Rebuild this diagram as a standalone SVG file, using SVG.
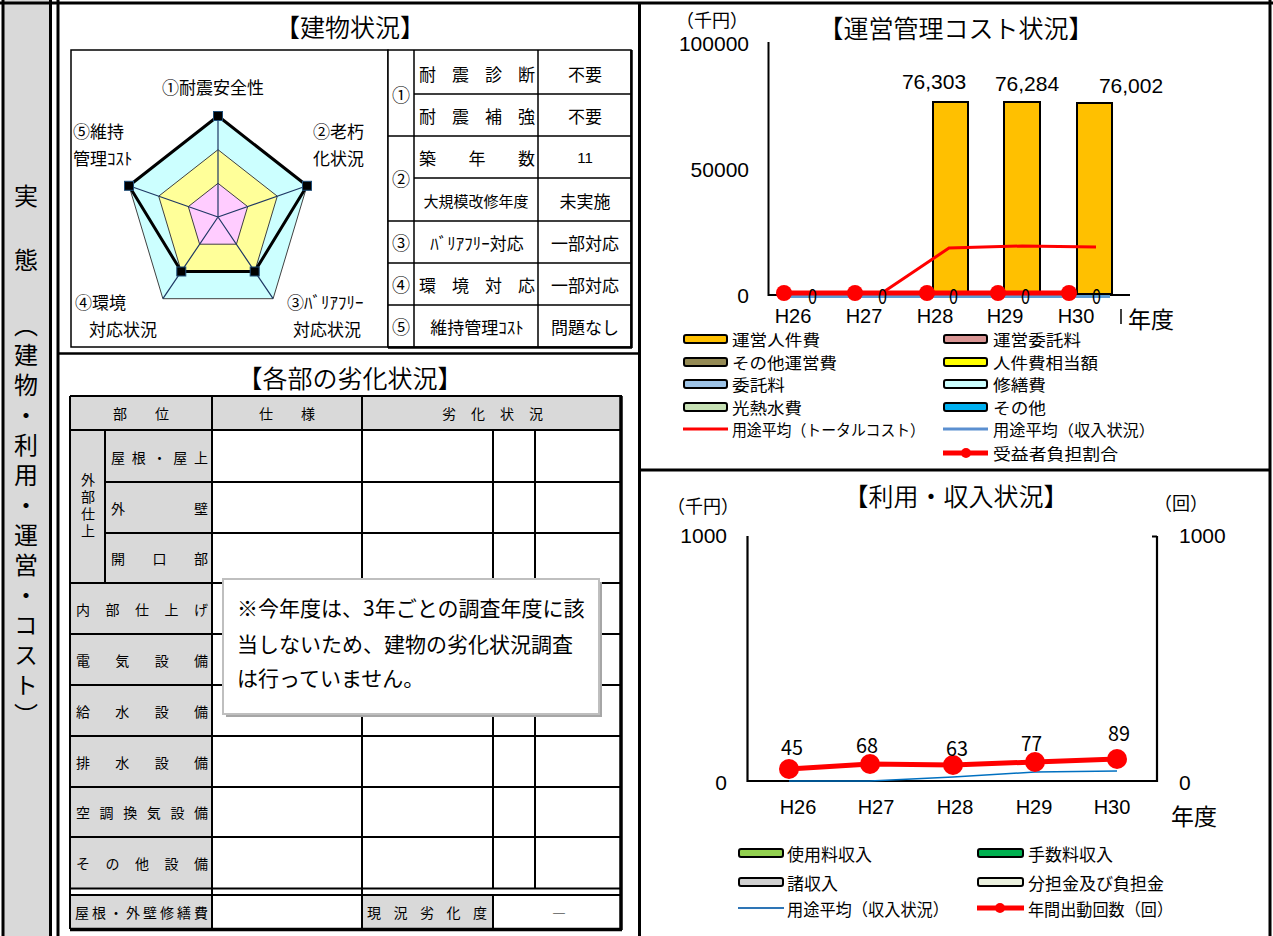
<svg xmlns="http://www.w3.org/2000/svg" width="1273" height="936" viewBox="0 0 1273 936">
<defs>
<style>
text{font-family:"Noto Sans CJK JP","Liberation Sans",sans-serif;dominant-baseline:central;fill:#000}
.n{font-family:"Liberation Sans",Arial,sans-serif}
.ttl{font-size:25px;text-anchor:middle;font-weight:350}
.c{text-anchor:middle}
.e{text-anchor:end}
.f17{font-size:17px}
.f15{font-size:15px}
.f14{font-size:14px}
.f18{font-size:18px}
.f20{font-size:20px}
.f21{font-size:21px}
.f23{font-size:23px}
.lg{font-size:15.5px}
.red{fill:#c00000}
.hd{fill:#d9d9d9}
.sw{stroke:#000;stroke-width:2}
.side{font-size:24px;text-anchor:middle}
.vt{writing-mode:vertical-rl;dominant-baseline:auto}
</style>
</defs>

<g id="frame">
<rect width="1273" height="936" fill="#fff"/>
<rect x="3" y="0" width="47" height="936" fill="#d9d9d9"/>
<path d="M3 0V936M50.5 0V936M58 0V936M1270 0V936M639.5 4V936M0 3H1273" stroke="#000" stroke-width="3" fill="none"/>
<path d="M58 353.5H639" stroke="#000" stroke-width="2.5"/>
<path d="M639 470H1270" stroke="#000" stroke-width="3"/>
</g>

<g id="side">
<text class="side" x="26" y="194">実</text>
<text class="side" x="26" y="258">態</text>
<text class="vt" x="26" y="313" font-size="24" letter-spacing="6">（建物・利用・運営・コスト）</text>
</g>

<g id="bldg-title"><text class="ttl" x="350" y="26">【建物状況】</text></g>

<g id="radar">
<rect x="71" y="50" width="317" height="297" fill="#fff" stroke="#000" stroke-width="1.5"/>
<polygon points="218,116 307,185.8 273.1,298.7 162.9,298.7 129,185.8" fill="#ccffff" stroke="#404040" stroke-width="1"/>
<polygon points="218,149.7 277.3,196.2 254.7,271.5 181.3,271.5 158.7,196.2" fill="#ffff99" stroke="#404040" stroke-width="1"/>
<polygon points="218,183.3 247.7,206.6 236.4,244.2 199.6,244.2 188.3,206.6" fill="#ffccff" stroke="#404040" stroke-width="1"/>
<path d="M218 217L218 116M218 217L307 185.8M218 217L273.1 298.7M218 217L162.9 298.7M218 217L129 185.8" stroke="#1f3864" stroke-width="1.2"/>
<polygon points="218,116 307,185.8 254.7,271.5 181.3,271.5 129,185.8" fill="none" stroke="#000" stroke-width="3" stroke-linejoin="round"/>
<g fill="#000" stroke="#1f4e79" stroke-width="1">
<rect x="213.5" y="111.5" width="9" height="9"/>
<rect x="302.5" y="181.3" width="9" height="9"/>
<rect x="250.2" y="267" width="9" height="9"/>
<rect x="176.8" y="267" width="9" height="9"/>
<rect x="124.5" y="181.3" width="9" height="9"/>
</g>
<text class="f17 c" x="213" y="86">①耐震安全性</text>
<text class="f17 e" x="364" y="130">②老朽</text>
<text class="f17 e" x="364" y="157">化状況</text>
<text class="f17" x="73" y="130">⑤維持</text>
<text class="f17" x="73" y="157">管理ｺｽﾄ</text>
<text class="f17" x="75" y="301">④環境</text>
<text class="f17" x="89" y="328">対応状況</text>
<text class="f17" x="287" y="301">③ﾊﾞﾘｱﾌﾘｰ</text>
<text class="f17" x="293" y="328">対応状況</text>
</g>

<g id="bldg-table">
<rect x="388" y="50" width="243" height="297" fill="#fff" stroke="#000" stroke-width="1.5"/>
<path d="M414 50V347M538 50V347M388 136H631M388 221H631M388 263H631M388 305H631M414 94H631M414 178H631" stroke="#000" stroke-width="1.5"/>
<path d="M631.5 50V348M388 347.5H632" stroke="#000" stroke-width="2.5"/>
<text class="f18 c" x="401" y="94">①</text>
<text class="f18 c" x="401" y="178">②</text>
<text class="f18 c" x="401" y="242">③</text>
<text class="f18 c" x="401" y="284">④</text>
<text class="f18 c" x="401" y="326">⑤</text>
<text class="f17" x="419" y="73" textLength="116" lengthAdjust="spacing">耐震診断</text>
<text class="f17" x="419" y="115" textLength="116" lengthAdjust="spacing">耐震補強</text>
<text class="f17" x="419" y="157" textLength="116" lengthAdjust="spacing">築年数</text>
<text class="f15 c" x="476" y="200">大規模改修年度</text>
<text class="f17 c" x="477" y="242">ﾊﾞﾘｱﾌﾘｰ対応</text>
<text class="f17" x="419" y="284" textLength="116" lengthAdjust="spacing">環境対応</text>
<text class="f17 c" x="477" y="326">維持管理ｺｽﾄ</text>
<text class="f17 c" x="585" y="73">不要</text>
<text class="f17 c" x="585" y="115">不要</text>
<text class="n f15 c" x="585" y="157">11</text>
<text class="f17 c" x="585" y="200">未実施</text>
<text class="f17 c" x="585" y="242">一部対応</text>
<text class="f17 c" x="585" y="284">一部対応</text>
<text class="f17 c" x="585" y="326">問題なし</text>
</g>

<g id="deg-title"><text class="ttl" x="350" y="377">【各部の劣化状況】</text></g>

<g id="deg-table">
<rect x="70" y="396" width="552" height="34" class="hd"/>
<rect x="70" y="430" width="142" height="458" class="hd"/>
<rect x="70" y="895" width="142" height="34" class="hd"/>
<rect x="362" y="895" width="131" height="34" class="hd"/>
<path d="M70 396H622M70 430H622M105 482H622M105 533H622M70 583H622M70 634H622M70 685H622M70 736H622M70 787H622M70 837H622M70 888.5H622M70 895H622M105 430V583M212 396V929M362 396V929M493 430V888M535 430V888M493 895V929M70 396V929" stroke="#000" stroke-width="2" fill="none"/>
<path d="M621 396V930M70 929.5H622" stroke="#000" stroke-width="3.5" fill="none"/>
<text class="f14 c" x="141" y="413">部　　位</text>
<text class="f14 c" x="287" y="413">仕　　様</text>
<text class="f14" x="442" y="413" textLength="101" lengthAdjust="spacing">劣化状況</text>
<text class="vt" x="88" y="473" font-size="14" letter-spacing="3">外部仕上</text>
<text class="f14" x="111" y="457" textLength="97" lengthAdjust="spacing">屋根・屋上</text>
<text class="f14" x="111" y="508" textLength="97" lengthAdjust="spacing">外壁</text>
<text class="f14" x="111" y="558" textLength="97" lengthAdjust="spacing">開口部</text>
<text class="f14" x="76" y="609" textLength="132" lengthAdjust="spacing">内部仕上げ</text>
<text class="f14" x="76" y="660" textLength="132" lengthAdjust="spacing">電気設備</text>
<text class="f14" x="76" y="711" textLength="132" lengthAdjust="spacing">給水設備</text>
<text class="f14" x="76" y="762" textLength="132" lengthAdjust="spacing">排水設備</text>
<text class="f14" x="76" y="812" textLength="132" lengthAdjust="spacing">空調換気設備</text>
<text class="f14" x="76" y="863" textLength="132" lengthAdjust="spacing">その他設備</text>
<text class="f14" x="75" y="912" textLength="133" lengthAdjust="spacing">屋根・外壁修繕費</text>
<text class="f14" x="367" y="912" textLength="120" lengthAdjust="spacing">現況劣化度</text>
<text class="f14 c" x="559" y="912">―</text>
</g>

<g id="note">
<rect x="226" y="582" width="376" height="135" fill="#a6a6a6"/>
<rect x="223" y="579" width="376" height="135" fill="#fff" stroke="#bfbfbf" stroke-width="2"/>
<text class="f21" x="237" y="607">※今年度は、3年ごとの調査年度に該</text>
<text class="f21" x="237" y="643">当しないため、建物の劣化状況調査</text>
<text class="f21" x="237" y="677">は行っていません。</text>
</g>

<g id="cost-chart">
<text class="ttl" x="956" y="27">【運営管理コスト状況】</text>
<text class="f18 c" x="712" y="19">（千円）</text>
<text class="n f21 e" x="749" y="43">100000</text>
<text class="n f21 e" x="749" y="169">50000</text>
<text class="n f21 e" x="749" y="295">0</text>
<g fill="#ffc000" stroke="#000" stroke-width="2">
<rect x="933" y="102" width="35" height="192"/>
<rect x="1004" y="102" width="36" height="192"/>
<rect x="1077" y="103" width="35" height="191"/>
</g>
<path d="M768.5 42V296M768 295H1130" stroke="#000" stroke-width="2" fill="none"/>
<path d="M784 296.5H1110" stroke="#5b9bd5" stroke-width="3"/>
<polyline points="784,293 882,293 949,248 1022,246 1096,247" fill="none" stroke="#ff0000" stroke-width="3"/>
<path d="M784 293H1069" stroke="#ff0000" stroke-width="5"/>
<g fill="#ff0000">
<circle cx="784" cy="293" r="8"/>
<circle cx="855" cy="293" r="8"/>
<circle cx="927" cy="293" r="8"/>
<circle cx="998" cy="293" r="8"/>
<circle cx="1069" cy="293" r="8"/>
</g>
<g class="n red" font-size="20">
<text x="808" y="295" textLength="9" lengthAdjust="spacingAndGlyphs">0</text>
<text x="878" y="295" textLength="9" lengthAdjust="spacingAndGlyphs">0</text>
<text x="949" y="295" textLength="9" lengthAdjust="spacingAndGlyphs">0</text>
<text x="1021" y="295" textLength="9" lengthAdjust="spacingAndGlyphs">0</text>
<text x="1092" y="295" textLength="9" lengthAdjust="spacingAndGlyphs">0</text>
</g>
<text class="n f21 c" x="934" y="81">76,303</text>
<text class="n f21 c" x="1027" y="83">76,284</text>
<text class="n f21 c" x="1131" y="85">76,002</text>
<text class="n f20 c" x="793" y="316">H26</text>
<text class="n f20 c" x="864" y="316">H27</text>
<text class="n f20 c" x="935" y="316">H28</text>
<text class="n f20 c" x="1005" y="316">H29</text>
<text class="n f20 c" x="1076" y="316">H30</text>
<path d="M1121 309V324" stroke="#000" stroke-width="1.5"/>
<text class="f23" x="1128" y="318">年度</text>
</g>

<g id="cost-legend">
<g class="sw">
<rect x="684" y="335" width="43" height="8" rx="2" fill="#ffc000"/>
<rect x="684" y="358" width="43" height="8" rx="2" fill="#948a54"/>
<rect x="684" y="380" width="43" height="8" rx="2" fill="#9dc3e6"/>
<rect x="684" y="403" width="43" height="8" rx="2" fill="#c6e0b4"/>
<rect x="944" y="335" width="43" height="8" rx="2" fill="#d99594"/>
<rect x="944" y="358" width="43" height="8" rx="2" fill="#ffff00"/>
<rect x="944" y="380" width="43" height="8" rx="2" fill="#ccffff"/>
<rect x="944" y="403" width="43" height="8" rx="2" fill="#00b0f0"/>
</g>
<path d="M683 429H728" stroke="#ff0000" stroke-width="3"/>
<path d="M943 429H988" stroke="#5b8fd0" stroke-width="3"/>
<path d="M943 453H988" stroke="#ff0000" stroke-width="5"/>
<circle cx="966" cy="453" r="5" fill="#ff0000"/>
<text class="lg" x="732" y="339" textLength="88" lengthAdjust="spacingAndGlyphs">運営人件費</text>
<text class="lg" x="732" y="362" textLength="105" lengthAdjust="spacingAndGlyphs">その他運営費</text>
<text class="lg" x="732" y="384" textLength="53" lengthAdjust="spacingAndGlyphs">委託料</text>
<text class="lg" x="732" y="407" textLength="70" lengthAdjust="spacingAndGlyphs">光熱水費</text>
<text class="lg" x="732" y="429" textLength="193" lengthAdjust="spacingAndGlyphs">用途平均（トータルコスト）</text>
<text class="lg" x="993" y="339" textLength="88" lengthAdjust="spacingAndGlyphs">運営委託料</text>
<text class="lg" x="993" y="362" textLength="105" lengthAdjust="spacingAndGlyphs">人件費相当額</text>
<text class="lg" x="993" y="384" textLength="53" lengthAdjust="spacingAndGlyphs">修繕費</text>
<text class="lg" x="993" y="407" textLength="53" lengthAdjust="spacingAndGlyphs">その他</text>
<text class="lg" x="993" y="429" textLength="162" lengthAdjust="spacingAndGlyphs">用途平均（収入状況）</text>
<text class="lg" x="993" y="453" textLength="125" lengthAdjust="spacingAndGlyphs">受益者負担割合</text>
</g>

<g id="usage-chart">
<text class="ttl" x="956" y="495">【利用・収入状況】</text>
<text class="f18 c" x="703" y="505">（千円）</text>
<text class="f18 c" x="1181" y="502">（回）</text>
<text class="n f21 e" x="727" y="535">1000</text>
<text class="n f21" x="1179" y="535">1000</text>
<text class="n f21 e" x="727" y="782">0</text>
<text class="n f21" x="1179" y="782">0</text>
<path d="M747.5 536V782M1157 536V782M1152 536.5H1157M747 781H1158" stroke="#000" stroke-width="2.2" fill="none"/>
<polyline points="789,781 870,781 953,777 1035,772 1117,771" fill="none" stroke="#0070c0" stroke-width="1.5"/>
<polyline points="789,769 870,764 953,765 1035,762 1117,759" fill="none" stroke="#ff0000" stroke-width="5"/>
<g fill="#ff0000">
<circle cx="789" cy="769" r="10"/>
<circle cx="870" cy="764" r="10"/>
<circle cx="953" cy="765" r="10"/>
<circle cx="1035" cy="762" r="10"/>
<circle cx="1117" cy="759" r="10"/>
</g>
<g class="n red" font-size="20">
<text x="781" y="746" textLength="22" lengthAdjust="spacingAndGlyphs">45</text>
<text x="856" y="744" textLength="22" lengthAdjust="spacingAndGlyphs">68</text>
<text x="946" y="747" textLength="22" lengthAdjust="spacingAndGlyphs">63</text>
<text x="1021" y="742" textLength="21" lengthAdjust="spacingAndGlyphs">77</text>
<text x="1108" y="732" textLength="22" lengthAdjust="spacingAndGlyphs">89</text>
</g>
<text class="n f20 c" x="798" y="807">H26</text>
<text class="n f20 c" x="876" y="807">H27</text>
<text class="n f20 c" x="955" y="807">H28</text>
<text class="n f20 c" x="1034" y="807">H29</text>
<text class="n f20 c" x="1112" y="807">H30</text>
<text class="f23" x="1171" y="815">年度</text>
</g>

<g id="usage-legend">
<g class="sw">
<rect x="739" y="849" width="44" height="8" rx="2" fill="#92d050"/>
<rect x="978" y="849" width="45" height="8" rx="2" fill="#00b050"/>
<rect x="739" y="878" width="44" height="8" rx="2" fill="#d0d0d0"/>
<rect x="978" y="878" width="45" height="8" rx="2" fill="#ebf1de"/>
</g>
<path d="M738 908H784" stroke="#2e75b6" stroke-width="2"/>
<path d="M977 908H1024" stroke="#ff0000" stroke-width="5"/>
<circle cx="1000" cy="908" r="5" fill="#ff0000"/>
<text class="f17" x="787" y="853">使用料収入</text>
<text class="f17" x="787" y="882">諸収入</text>
<text class="f17" x="787" y="908" textLength="162" lengthAdjust="spacingAndGlyphs">用途平均（収入状況）</text>
<text class="f17" x="1028" y="853">手数料収入</text>
<text class="f17" x="1028" y="882">分担金及び負担金</text>
<text class="f17" x="1028" y="908" textLength="145" lengthAdjust="spacingAndGlyphs">年間出動回数（回）</text>
</g>
</svg>
